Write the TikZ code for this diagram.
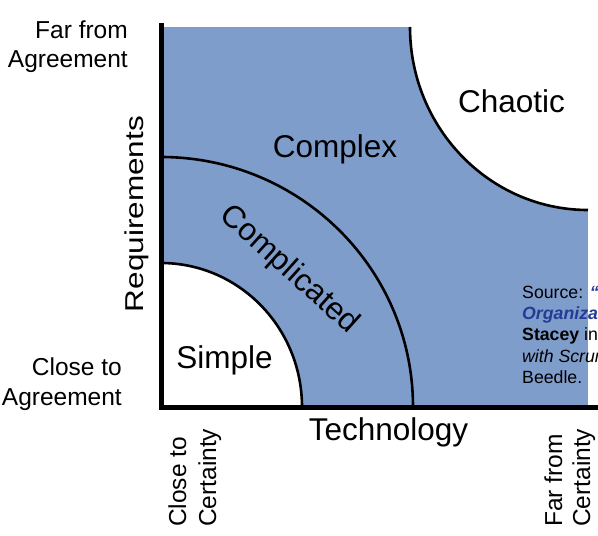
\documentclass[tikz,border=0pt]{standalone}
\usepackage{fontspec}
\setmainfont{Liberation Sans}
\definecolor{zoneblue}{RGB}{127,157,203}
\definecolor{srcblue}{RGB}{35,60,150}
\begin{document}
\begin{tikzpicture}[x=1pt,y=1pt,
  lbl/.style={font=\fontsize{31.5}{36}\selectfont, inner sep=0pt},
  corner/.style={font=\fontsize{24.5}{29}\selectfont, inner sep=0pt},
  src/.style={font=\fontsize{17.7}{21}\selectfont, inner sep=0pt, anchor=base west},
  axisline/.style={line width=5pt},
  arcline/.style={line width=2.6pt}]
\useasboundingbox (0,0) rectangle (598,-536);
\begin{scope}
\clip (0,0) rectangle (598,-536);
% zones
\fill[zoneblue] (163,-27) rectangle (588,-407);
\fill[white] (161,-407) -- (302,-407) arc[start angle=0,end angle=90,x radius=141,y radius=144] -- cycle;
\fill[white] (588,-27) -- (410,-27) arc[start angle=180,end angle=270,x radius=178,y radius=183] -- cycle;
\draw[arcline] (302,-407) arc[start angle=0,end angle=90,x radius=141,y radius=144];
\draw[arcline] (413,-407) arc[start angle=0,end angle=90,x radius=252,y radius=250];
\draw[arcline] (410,-27) arc[start angle=180,end angle=270,x radius=178,y radius=183];
% axes
\draw[axisline] (161,-23) -- (161,-409.5);
\draw[axisline] (158.5,-407) -- (600,-407);
% zone labels
\node[lbl, anchor=base] (chaotic) at (511.5,-112) {Chaotic};
\node[lbl, anchor=base] (complex) at (335,-157) {Complex};
\node[lbl, anchor=base] (simple) at (224.5,-368) {Simple};
\node[lbl, anchor=center, rotate=-42] (complicated) at (289,-270) {Complicated};
% axis labels
\node[lbl, anchor=base] (technology) at (388.5,-440) {Technology};
\node[lbl, anchor=base, rotate=90] (requirements) at (143,-214) {\scalebox{1}[0.82]{Requirements}};
\node[corner, anchor=base east] (far1) at (128,-38) {Far from};
\node[corner, anchor=base east] (far2) at (128,-67) {Agreement};
\node[corner, anchor=base east] (close1) at (122,-375) {Close to};
\node[corner, anchor=base east] (close2) at (122,-405) {Agreement};
\node[corner, anchor=base west, rotate=90] (ccert1) at (186,-527) {Close to};
\node[corner, anchor=base west, rotate=90] (ccert2) at (216,-527) {Certainty};
\node[corner, anchor=base west, rotate=90] (fcert1) at (562,-527) {Far from};
\node[corner, anchor=base west, rotate=90] (fcert2) at (590,-527) {Certainty};
% source
\node[src] (s1) at (522,-298) {Source: \textcolor{srcblue}{\bfseries\itshape “}};
\node[src] (s2) at (522,-319) {\textcolor{srcblue}{\bfseries\itshape Organiza}};
\node[src] (s3) at (522,-340) {\textbf{Stacey} in};
\node[src] (s4) at (522,-362) {\itshape with Scrum};
\node[src] (s5) at (522,-383) {Beedle.};
\end{scope}
\end{tikzpicture}
\end{document}
